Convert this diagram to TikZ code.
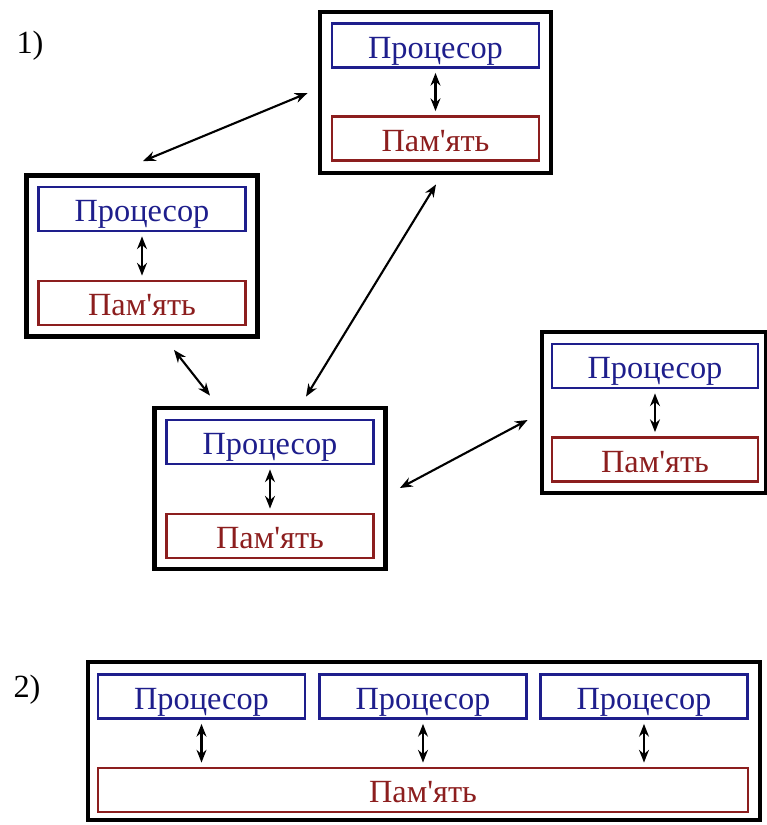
\documentclass[tikz,border=0pt]{standalone}
\usepackage{fontspec}
\setmainfont{Liberation Serif}[Ligatures=TeXOff]
\usetikzlibrary{calc,positioning,arrows.meta}
\definecolor{cpublue}{RGB}{30,30,140}
\definecolor{memred}{RGB}{140,30,30}

\begin{document}
\begin{tikzpicture}[
        x=0.025cm,y=-0.025cm,
        every node/.style={font=\fontsize{23}{27}\selectfont},
        frame/.style={
          draw,line width=3.4pt,
          inner sep=0pt,
          minimum width=5.775cm,
          minimum height=4.025cm
        },
        cpu/.style={
          draw=cpublue,text=cpublue,
          line width=1.7pt,inner sep=0pt,
          text height=18pt,text depth=0pt,
          minimum width=5.175cm,
          minimum height=1.1cm
        },
        mem/.style={cpu,draw=memred,text=memred},
        link/.style={{Stealth[length=9pt,width=7pt]}-{Stealth[length=9pt,width=7pt]},line width=1.5pt},
        bus/.style={link,shorten <=3pt,shorten >=3pt},
      ]
      \useasboundingbox (0,0) rectangle (767,825);

      % 1) distributed memory
      \node (lab1) at (30,46) {1)};
      \node[frame] (frameA) at (435.5,92.5) {};
      \node[frame] (frameB) at (142,256) {};
      \node[frame] (frameC) at (270,488.5) {};
      \node[frame,minimum width=5.6cm] (frameD) at (654,412.5) {};

      \node[cpu] (cpuA) at ($(frameA)+(0,-47)$) {Процесор};
      \node[mem] (memA) at ($(frameA)+(0,46)$) {Пам'ять};
      \node[cpu] (cpuB) at ($(frameB)+(0,-47)$) {Процесор};
      \node[mem] (memB) at ($(frameB)+(0,47)$) {Пам'ять};
      \node[cpu] (cpuC) at ($(frameC)+(0,-46.5)$) {Процесор};
      \node[mem] (memC) at ($(frameC)+(0,47.5)$) {Пам'ять};
      \node[cpu,minimum width=5.15cm] (cpuD) at ($(frameD)+(1,-46.5)$) {Процесор};
      \node[mem,minimum width=5.15cm] (memD) at ($(frameD)+(1,47)$) {Пам'ять};

      \draw[bus] (cpuA) -- (memA);
      \draw[bus] (cpuB) -- (memB);
      \draw[bus] (cpuC) -- (memC);
      \draw[bus] (cpuD) -- (memD);

      \draw[link] ($(frameB.north)+(1,-12)$) -- ($(frameA.west)+(-10,0.5)$);
      \draw[link] ($(frameA.south)+(0.5,9)$) -- ($(frameC.north)+(36,-9)$);
      \draw[link] ($(frameB.south)+(32,11)$) -- ($(frameC.north)+(-60,-10)$);
      \draw[link] ($(frameC.east)+(12,-0.5)$) -- ($(frameD.west)+(-12,7.5)$);

      % 2) shared memory
      \node (lab2) at (27,690) {2)};
      \node[frame,minimum width=16.8cm,minimum height=3.95cm] (frameS) at (424,741) {};
      \node[cpu] (cpuS1) at (201.5,696.5) {Процесор};
      \node[cpu] (cpuS2) at (423,696.5) {Процесор};
      \node[cpu] (cpuS3) at (644,696.5) {Процесор};
      \node[mem,minimum width=16.25cm] (memS) at (423,790) {Пам'ять};

      \draw[bus] (cpuS1) -- (cpuS1 |- memS.north);
      \draw[bus] (cpuS2) -- (cpuS2 |- memS.north);
      \draw[bus] (cpuS3) -- (cpuS3 |- memS.north);
\end{tikzpicture}
\end{document}
